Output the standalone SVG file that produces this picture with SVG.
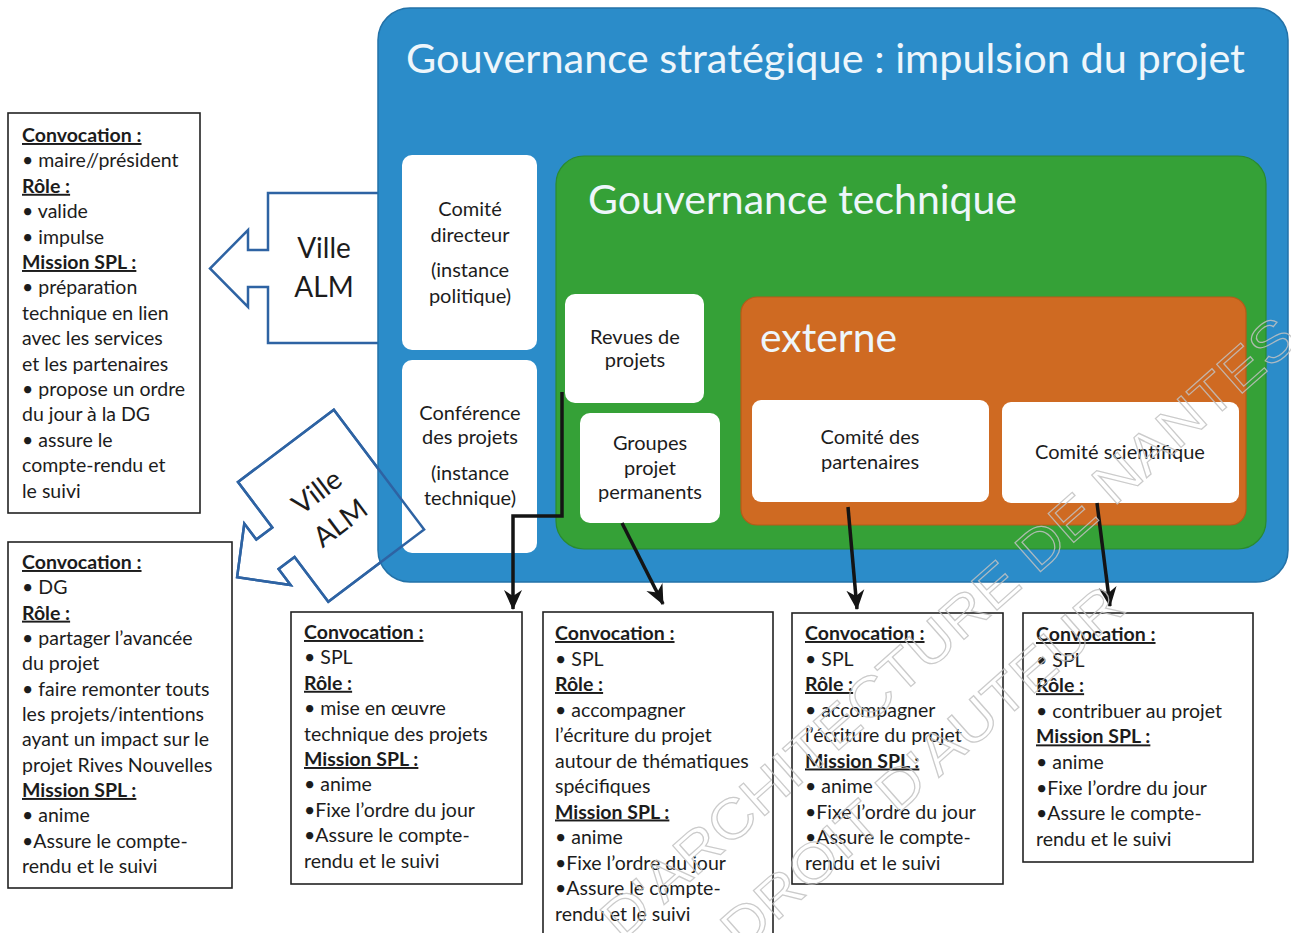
<svg xmlns="http://www.w3.org/2000/svg" width="1291" height="933" viewBox="0 0 1291 933">
<style>
.bg{fill:#ffffff}
.t{font-family:Lato,"Liberation Sans",sans-serif;font-size:19.5px;fill:#1c1c1c}
.h{font-weight:bold;text-decoration:underline}
.n{font-family:Lato,"Liberation Sans",sans-serif;font-size:20px;fill:#1c1c1c;text-anchor:middle}
.big{font-family:Lato,"Liberation Sans",sans-serif;font-size:40px;fill:#eef6fb}
.co{fill:#ffffff;stroke:#2e63a3;stroke-width:2.5;stroke-linejoin:miter}
.col{fill:none;stroke:#2e63a3;stroke-width:2.5}
.ct{font-family:Lato,"Liberation Sans",sans-serif;font-size:28px;fill:#1c1c1c;text-anchor:middle}
.box{fill:#ffffff;stroke:#222;stroke-width:1.6}
.node{fill:#ffffff}
.cn{fill:none;stroke:#141414;stroke-width:3.5}
.wm{font-family:"Liberation Sans",sans-serif;font-size:56px;fill:none;stroke:#c2c2c2;stroke-width:1.2}
</style>
<defs>
<marker id="ah" markerUnits="userSpaceOnUse" markerWidth="22" markerHeight="20" refX="19" refY="10" orient="auto">
<path d="M0,1 L20,10 L0,19 L6,10 z" fill="#141414"/>
</marker>
<polygon id="callout" points="0,0 0,57 -20,57 -20,37 -58,75.5 -20,114 -20,94 0,94 0,150 120,150 120,0"/>
</defs>
<rect class="bg" x="0" y="0" width="1291" height="933"/>

<g id="callout-ville-alm-1">
<use href="#callout" class="co" transform="translate(268,193)"/>
<text class="ct" x="324" y="258">Ville</text>
<text class="ct" x="324" y="297">ALM</text>
</g>
<g id="callout-ville-alm-2-fill">
<use href="#callout" class="co" transform="translate(238,482) rotate(-37)"/>
</g>

<g id="gouvernance-strategique">
<rect x="378" y="8" width="910" height="574" rx="32" fill="#2b8cc9" stroke="#2372a8" stroke-width="1.5"/>
<text class="big" x="406" y="73" textLength="839" lengthAdjust="spacingAndGlyphs">Gouvernance stratégique : impulsion du projet</text>
</g>

<g id="comite-directeur">
<rect class="node" x="402" y="155" width="135" height="195" rx="10"/>
<text class="n" x="470" y="216">Comité</text>
<text class="n" x="470" y="242">directeur</text>
<text class="n" x="470" y="277">(instance</text>
<text class="n" x="470" y="303">politique)</text>
</g>
<g id="conference-projets">
<rect class="node" x="402" y="360" width="135" height="193" rx="10"/>
<text class="n" x="470" y="420">Conférence</text>
<text class="n" x="470" y="444">des projets</text>
<text class="n" x="470" y="480">(instance</text>
<text class="n" x="470" y="505">technique)</text>
</g>

<g id="gouvernance-technique">
<rect x="556" y="156" width="710" height="393" rx="28" fill="#35a137" stroke="#2a8a2e" stroke-width="1.2"/>
<text class="big" x="588" y="214" textLength="429" lengthAdjust="spacingAndGlyphs">Gouvernance technique</text>
</g>

<g id="revues-projets">
<rect class="node" x="565" y="294" width="139" height="109" rx="10"/>
<text class="n" x="635" y="344">Revues de</text>
<text class="n" x="635" y="367">projets</text>
</g>
<g id="groupes-projet">
<rect class="node" x="580" y="413" width="140" height="110" rx="10"/>
<text class="n" x="650" y="450">Groupes</text>
<text class="n" x="650" y="475">projet</text>
<text class="n" x="650" y="499">permanents</text>
</g>

<g id="externe">
<rect x="741" y="297" width="505" height="228" rx="16" fill="#cf6a22" stroke="#b75a18" stroke-width="1.2"/>
<text class="big" x="760" y="352" textLength="137" lengthAdjust="spacingAndGlyphs">externe</text>
</g>
<g id="comite-partenaires">
<rect class="node" x="752" y="400" width="237" height="102" rx="9"/>
<text class="n" x="870" y="444">Comité des</text>
<text class="n" x="870" y="469">partenaires</text>
</g>
<g id="comite-scientifique">
<rect class="node" x="1002" y="402" width="237" height="101" rx="9"/>
<text class="n" x="1120" y="459">Comité scientifique</text>
</g>

<g id="callout-ville-alm-2">
<use href="#callout" class="col" transform="translate(238,482) rotate(-37)"/>
<g transform="translate(238,482) rotate(-37)">
<text class="ct" x="57" y="65">Ville</text>
<text class="ct" x="57" y="104">ALM</text>
</g>
</g>

<g id="box-comite-directeur">
<rect class="box" x="8" y="113" width="192" height="400"/>
<text class="t"><tspan x="22" y="142" class="h">Convocation :</tspan><tspan x="22" dy="25.4">• maire//président</tspan><tspan x="22" dy="25.4" class="h">Rôle :</tspan><tspan x="22" dy="25.4">• valide</tspan><tspan x="22" dy="25.4">• impulse</tspan><tspan x="22" dy="25.4" class="h">Mission SPL :</tspan><tspan x="22" dy="25.4">• préparation</tspan><tspan x="22" dy="25.4">technique en lien</tspan><tspan x="22" dy="25.4">avec les services</tspan><tspan x="22" dy="25.4">et les partenaires</tspan><tspan x="22" dy="25.4">• propose un ordre</tspan><tspan x="22" dy="25.4">du jour à la DG</tspan><tspan x="22" dy="25.4">• assure le</tspan><tspan x="22" dy="25.4">compte-rendu et</tspan><tspan x="22" dy="25.4">le suivi</tspan></text>
</g>

<g id="box-conference-projets">
<rect class="box" x="8" y="542" width="224" height="346"/>
<text class="t"><tspan x="22" y="569" class="h">Convocation :</tspan><tspan x="22" dy="25.33">• DG</tspan><tspan x="22" dy="25.33" class="h">Rôle :</tspan><tspan x="22" dy="25.33">• partager l’avancée</tspan><tspan x="22" dy="25.33">du projet</tspan><tspan x="22" dy="25.33">• faire remonter touts</tspan><tspan x="22" dy="25.33">les projets/intentions</tspan><tspan x="22" dy="25.33">ayant un impact sur le</tspan><tspan x="22" dy="25.33">projet Rives Nouvelles</tspan><tspan x="22" dy="25.33" class="h">Mission SPL :</tspan><tspan x="22" dy="25.33">• anime</tspan><tspan x="22" dy="25.33">•Assure le compte-</tspan><tspan x="22" dy="25.33">rendu et le suivi</tspan></text>
</g>

<g id="box-revues-projets">
<rect class="box" x="291" y="612" width="231" height="272"/>
<text class="t"><tspan x="304" y="639" class="h">Convocation :</tspan><tspan x="304" dy="25.4">• SPL</tspan><tspan x="304" dy="25.4" class="h">Rôle :</tspan><tspan x="304" dy="25.4">• mise en œuvre</tspan><tspan x="304" dy="25.4">technique des projets</tspan><tspan x="304" dy="25.4" class="h">Mission SPL :</tspan><tspan x="304" dy="25.4">• anime</tspan><tspan x="304" dy="25.4">•Fixe l’ordre du jour</tspan><tspan x="304" dy="25.4">•Assure le compte-</tspan><tspan x="304" dy="25.4">rendu et le suivi</tspan></text>
</g>

<g id="box-groupes-projet">
<rect class="box" x="543" y="612" width="230" height="335"/>
<text class="t"><tspan x="555" y="640" class="h">Convocation :</tspan><tspan x="555" dy="25.5">• SPL</tspan><tspan x="555" dy="25.5" class="h">Rôle :</tspan><tspan x="555" dy="25.5">• accompagner</tspan><tspan x="555" dy="25.5">l’écriture du projet</tspan><tspan x="555" dy="25.5">autour de thématiques</tspan><tspan x="555" dy="25.5">spécifiques</tspan><tspan x="555" dy="25.5" class="h">Mission SPL :</tspan><tspan x="555" dy="25.5">• anime</tspan><tspan x="555" dy="25.5">•Fixe l’ordre du jour</tspan><tspan x="555" dy="25.5">•Assure le compte-</tspan><tspan x="555" dy="25.5">rendu et le suivi</tspan></text>
</g>

<g id="box-comite-partenaires">
<rect class="box" x="792" y="613" width="211" height="271"/>
<text class="t"><tspan x="805" y="640" class="h">Convocation :</tspan><tspan x="805" dy="25.5">• SPL</tspan><tspan x="805" dy="25.5" class="h">Rôle :</tspan><tspan x="805" dy="25.5">• accompagner</tspan><tspan x="805" dy="25.5">l’écriture du projet</tspan><tspan x="805" dy="25.5" class="h">Mission SPL :</tspan><tspan x="805" dy="25.5">• anime</tspan><tspan x="805" dy="25.5">•Fixe l’ordre du jour</tspan><tspan x="805" dy="25.5">•Assure le compte-</tspan><tspan x="805" dy="25.5">rendu et le suivi</tspan></text>
</g>

<g id="box-comite-scientifique">
<rect class="box" x="1023" y="613" width="230" height="249"/>
<text class="t"><tspan x="1036" y="641" class="h">Convocation :</tspan><tspan x="1036" dy="25.6">• SPL</tspan><tspan x="1036" dy="25.6" class="h">Rôle :</tspan><tspan x="1036" dy="25.6">• contribuer au projet</tspan><tspan x="1036" dy="25.6" class="h">Mission SPL :</tspan><tspan x="1036" dy="25.6">• anime</tspan><tspan x="1036" dy="25.6">•Fixe l’ordre du jour</tspan><tspan x="1036" dy="25.6">•Assure le compte-</tspan><tspan x="1036" dy="25.6">rendu et le suivi</tspan></text>
</g>

<g id="connectors">
<polyline class="cn" points="562,392 562,516 513,516 513,609" marker-end="url(#ah)"/>
<line class="cn" x1="622" y1="523" x2="663" y2="604" marker-end="url(#ah)"/>
<line class="cn" x1="848" y1="507" x2="857" y2="609" marker-end="url(#ah)"/>
<line class="cn" x1="1097" y1="503" x2="1110" y2="606" marker-end="url(#ah)"/>
</g>

<g id="watermark" opacity="0.85">
<text class="wm" transform="translate(622,942) rotate(-41.5)" textLength="905" lengthAdjust="spacingAndGlyphs">D'ARCHITECTURE DE NANTES</text>
<text class="wm" transform="translate(742,952) rotate(-41.5)" textLength="515" lengthAdjust="spacingAndGlyphs">DROIT D'AUTEUR</text>
</g>
</svg>
